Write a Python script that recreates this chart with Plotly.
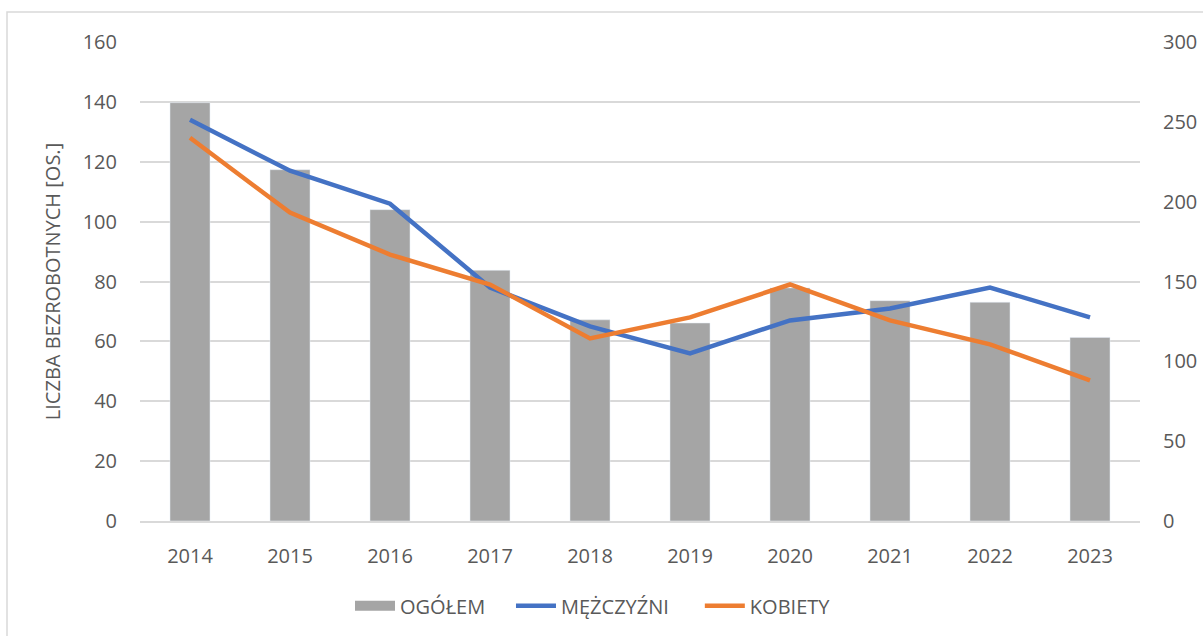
import plotly.graph_objects as go

years = ["2014", "2015", "2016", "2017", "2018", "2019", "2020", "2021", "2022", "2023"]
ogolem = [262, 220, 195, 157, 126, 124, 146, 138, 137, 115]
mezczyzni = [134, 117, 106, 78, 65, 56, 67, 71, 78, 68]
kobiety = [128, 103, 89, 79, 61, 68, 79, 67, 59, 47]

left_ticks = [0, 20, 40, 60, 80, 100, 120, 140, 160]
right_ticks = [0, 50, 100, 150, 200, 250, 300]

FONT = "Open Sans"
TXT = "#595959"
FS = 20
GRAY = "#a5a5a5"
PAD = "\u00a0\u00a0\u00a0\u00a0"

fig = go.Figure()
# anchor trace on primary axis (invisible) so the grid subplot exists
fig.add_trace(go.Scatter(x=years, y=[None] * len(years), showlegend=False,
                         hoverinfo="skip", mode="lines", yaxis="y"))
# bars (right axis), legend via separate dummy trace
fig.add_trace(go.Bar(x=years, y=ogolem, name="OGÓŁEM", marker=dict(color=GRAY),
                     yaxis="y2", showlegend=False))
fig.add_trace(go.Scatter(x=[years[0]], y=[None], name="OGÓŁEM" + PAD, mode="lines",
                         line=dict(color=GRAY, width=16), yaxis="y2"))
fig.add_trace(go.Scatter(x=years, y=mezczyzni, name="MĘŻCZYŹNI" + PAD + "\u00a0",
                         mode="lines", line=dict(color="#4472c4", width=4.5), yaxis="y3"))
fig.add_trace(go.Scatter(x=years, y=kobiety, name="KOBIETY", mode="lines",
                         line=dict(color="#ed7d31", width=4.5), yaxis="y3"))

fig.update_layout(
    width=1203, height=636,
    margin=dict(l=140, r=63, t=42, b=115, autoexpand=False),
    paper_bgcolor="white", plot_bgcolor="white",
    font=dict(family=FONT, size=FS, color=TXT),
    bargap=0.6,
    showlegend=True,
    legend=dict(orientation="h", x=0.21, xanchor="left", y=-0.177, yanchor="middle",
                font=dict(family=FONT, size=FS, color=TXT), traceorder="normal",
                itemwidth=40),
    xaxis=dict(showgrid=False, showline=True, linecolor="#d9d9d9", linewidth=1.5,
               ticks="", ticklabelstandoff=16, automargin=False,
               tickfont=dict(size=FS, color=TXT)),
    yaxis=dict(range=[0, 160], tickvals=left_ticks, showgrid=True, gridcolor="#d9d9d9",
               gridwidth=1.5, zeroline=False, showline=False, ticklabelstandoff=22,
               automargin=False,
               title=dict(text="LICZBA BEZROBOTNYCH [OS.]", standoff=16,
                          font=dict(size=FS, color=TXT)),
               tickfont=dict(size=FS, color=TXT)),
    yaxis2=dict(range=[0, 300], tickvals=right_ticks, overlaying="y", side="right",
                showgrid=False, zeroline=False, showline=False, ticklabelstandoff=22,
                automargin=False, tickfont=dict(size=FS, color=TXT)),
    yaxis3=dict(range=[0, 160], overlaying="y", side="left", showgrid=False,
                zeroline=False, showline=False, showticklabels=False, automargin=False),
    shapes=[dict(type="rect", xref="paper", yref="paper",
                 x0=(7 - 140) / 1000, x1=1.2, y0=-0.4, y1=(521 - 12) / 479,
                 line=dict(color="#d9d9d9", width=1.5), fillcolor="rgba(0,0,0,0)",
                 layer="below")],
)

fig.write_html(
    "out.html",
    config={"displayModeBar": False},
    post_script="document.body.style.margin='0';document.body.style.overflow='hidden';"
                "document.documentElement.style.overflow='hidden';",
)
